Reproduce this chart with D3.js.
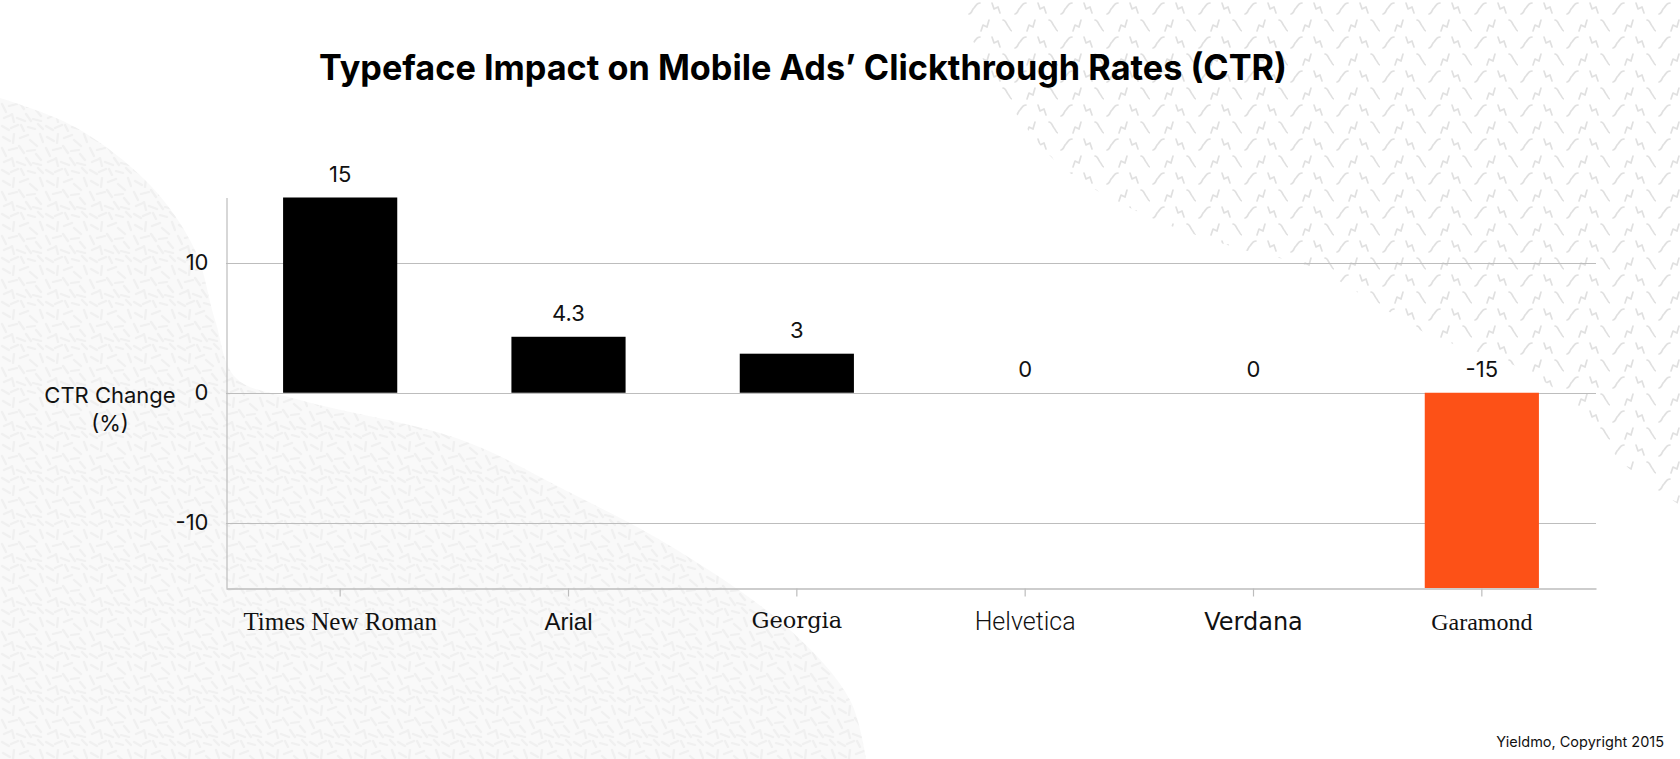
<!DOCTYPE html>
<html>
<head>
<meta charset="utf-8">
<script src="https://cdn.jsdelivr.net/npm/d3@7"></script>
<style>
  html, body { margin: 0; padding: 0; background: #ffffff; }
  svg { display: block; }
</style>
</head>
<body>
<svg id="chart" width="1680" height="759"></svg>
<script>
// ---- data ----
const categories = ["Times New Roman", "Arial", "Georgia", "Helvetica", "Verdana", "Garamond"];
const ctrChange = [15, 4.3, 3, 0, 0, -15];
const valueLabels = ["15", "4.3", "3", "0", "0", "-15"];
const yTicks = [-10, 0, 10];
const yTickLabels = ["-10", "0", "10"];
const categoryFonts = [
  {family: "'Liberation Serif', 'Times New Roman', serif", size: 25, weight: 400},
  {family: "'Liberation Sans', Arial, sans-serif", size: 24, weight: 400},
  {family: "'DejaVu Serif', Georgia, serif", size: 22.5, weight: 400},
  {family: "Roboto, 'Liberation Sans', sans-serif", size: 25, weight: 300},
  {family: "'DejaVu Sans', Verdana, sans-serif", size: 24, weight: 400},
  {family: "'Liberation Serif', Garamond, serif", size: 24, weight: 400}
];
const titleText = "Typeface Impact on Mobile Ads’ Clickthrough Rates (CTR)";
const footerText = "Yieldmo, Copyright 2015";

const W = 1680, H = 759;
const svg = d3.select("#chart");
const font = "Inter, 'Open Sans', sans-serif";

// ---- background decoration ----
const defs = svg.append("defs");
const pL = defs.append("pattern").attr("id", "rice").attr("patternUnits", "userSpaceOnUse")
  .attr("width", 44).attr("height", 44);
pL.append("rect").attr("width", 44).attr("height", 44).attr("fill", "#f9f9f9");
const riceStrokes = [
  [3,5,10,9],[14,2,13,11],[20,6,28,3],[30,8,37,14],[40,2,43,10],
  [2,16,6,24],[9,18,17,16],[19,14,24,21],[27,19,35,18],[36,22,41,28],
  [4,30,11,27],[12,26,14,34],[17,30,25,33],[26,26,31,33],[33,31,41,33],
  [2,38,9,42],[11,40,18,37],[21,37,24,43],[28,39,35,41],[38,36,43,41]
];
pL.selectAll("line").data(riceStrokes).join("line")
  .attr("x1", d => d[0]).attr("y1", d => d[1]).attr("x2", d => d[2]).attr("y2", d => d[3])
  .attr("stroke", "#f0f0f0").attr("stroke-width", 2.2).attr("stroke-linecap", "round");

const pR = defs.append("pattern").attr("id", "squig").attr("patternUnits", "userSpaceOnUse")
  .attr("width", 46).attr("height", 34);
const squigPaths = [
  "M3,14 C6,14 6,9 8,8 C10,6 10,3 14,3",
  "M26,3 L28,9 L32,7 L34,13",
  "M15,31 L17,25 L21,27 L23,20",
  "M37,20 C40,20 40,24 42,26 C44,28 44,31 46,31"
];
pR.selectAll("path").data(squigPaths).join("path").attr("d", d => d)
  .attr("fill", "none").attr("stroke", "#e0e0e0").attr("stroke-width", 1.7)
  .attr("stroke-linecap", "round").attr("stroke-linejoin", "round");

const curve = d3.line().curve(d3.curveCatmullRom.alpha(0.5));
const leftBlob = [[0,98],[75,127],[150,185],[195,250],[215,320],[236,378],[300,400],[459,439],[565,490],[677,550],[790,630],[850,700],[866,759]];
svg.append("path")
  .attr("d", curve(leftBlob) + `L0,${H}Z`)
  .attr("fill", "url(#rice)");
const rightBlob = [[952,0],[1007,100],[1060,165],[1145,215],[1237,248],[1314,268],[1370,300],[1430,335],[1518,367],[1575,405],[1625,465],[1680,505]];
svg.append("path")
  .attr("d", curve(rightBlob) + `L${W},0Z`)
  .attr("fill", "url(#squig)");

// ---- scales ----
const x = d3.scaleBand().domain(categories).range([226, 1596]).paddingInner(0.5).paddingOuter(0.25);
const y = d3.scaleLinear().domain([-15, 15]).range([588, 197.5]);
const data = categories.map((c, i) => ({c, v: ctrChange[i], label: valueLabels[i]}));

// grid lines
svg.append("g").selectAll("line").data(yTicks).join("line")
  .attr("x1", 226).attr("x2", 1596)
  .attr("y1", d => Math.round(y(d)) + 0.5).attr("y2", d => Math.round(y(d)) + 0.5)
  .attr("stroke", "#bdbdbd").attr("stroke-width", 1.2);

// bars
svg.append("g").selectAll("rect").data(data).join("rect")
  .attr("x", d => x(d.c))
  .attr("width", x.bandwidth())
  .attr("y", d => y(Math.max(0, d.v)))
  .attr("height", d => Math.abs(y(d.v) - y(0)))
  .attr("fill", d => d.v < 0 ? "#fd5117" : "#000000");

// axes
const yAxis = d3.axisLeft(y).tickValues(yTicks).tickFormat((d, i) => yTickLabels[i]).tickSize(0).tickPadding(18);
const gy = svg.append("g").attr("transform", "translate(226.5,0)").call(yAxis);
gy.select(".domain").attr("stroke", "#bdbdbd").attr("stroke-width", 1.2);
gy.selectAll("text").attr("font-family", font).attr("font-size", 22).attr("fill", "#111");

const xAxis = d3.axisBottom(x).tickSize(8).tickSizeOuter(0).tickPadding(16);
const gx = svg.append("g").attr("transform", "translate(0,588.5)").call(xAxis);
gx.select(".domain").attr("stroke", "#bdbdbd").attr("stroke-width", 1.4);
gx.selectAll(".tick line").attr("stroke", "#bdbdbd").attr("stroke-width", 1.2);
gx.selectAll("text")
  .attr("font-family", (d, i) => categoryFonts[i].family)
  .attr("font-size", (d, i) => categoryFonts[i].size)
  .attr("font-weight", (d, i) => categoryFonts[i].weight)
  .attr("fill", "#111");

// value labels
svg.append("g").selectAll("text").data(data).join("text")
  .attr("x", d => x(d.c) + x.bandwidth() / 2)
  .attr("y", d => y(Math.max(0, d.v)) - 16)
  .attr("text-anchor", "middle")
  .attr("font-family", font).attr("font-size", 22).attr("fill", "#111")
  .text(d => d.label);

// y axis title
svg.append("text").attr("x", 110).attr("y", 403).attr("text-anchor", "middle")
  .attr("font-family", font).attr("font-size", 22).attr("fill", "#111").text("CTR Change");
svg.append("text").attr("x", 110).attr("y", 431).attr("text-anchor", "middle")
  .attr("font-family", font).attr("font-size", 22).attr("fill", "#111").text("(%)");

// title
const t = svg.append("text").attr("x", 803).attr("y", 80).attr("text-anchor", "middle")
  .attr("font-family", font).attr("font-weight", 700).attr("font-size", 35).attr("fill", "#000")
  .text(titleText);
const tl = t.node().getComputedTextLength();
if (Math.abs(tl - 968) > 10) t.attr("textLength", 968).attr("lengthAdjust", "spacingAndGlyphs");

// footer
svg.append("text").attr("x", 1664).attr("y", 747).attr("text-anchor", "end")
  .attr("font-family", font).attr("font-size", 14.5).attr("fill", "#111").text(footerText);
</script>
</body>
</html>
